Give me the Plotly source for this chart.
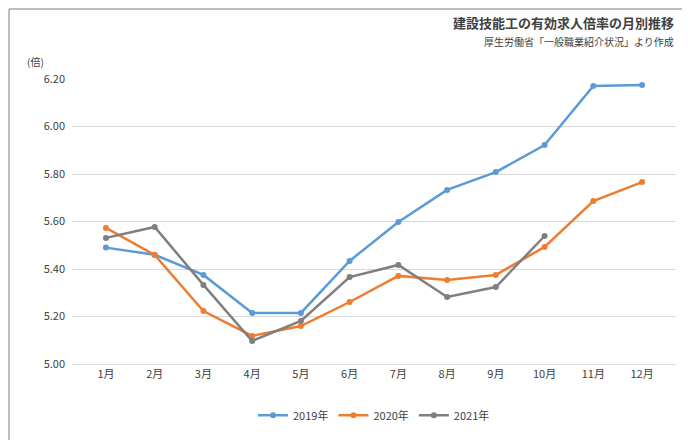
import plotly.graph_objects as go

months = ["1月","2月","3月","4月","5月","6月","7月","8月","9月","10月","11月","12月"]
s2019 = [5.49,5.46,5.375,5.215,5.215,5.434,5.598,5.733,5.808,5.922,6.171,6.175]
s2020 = [5.573,5.459,5.223,5.118,5.16,5.261,5.371,5.354,5.375,5.493,5.686,5.766]
s2021 = [5.531,5.577,5.333,5.097,5.181,5.366,5.417,5.282,5.324,5.539]
yticks = [5.0,5.2,5.4,5.6,5.8,6.0,6.2]

font = "Noto Sans CJK JP"
fig = go.Figure()
for name, ys, c in [("2019年", s2019, "#5B9BD5"), ("2020年", s2020, "#ED7D31"), ("2021年", s2021, "#7F7F7F")]:
    fig.add_trace(go.Scatter(x=months[:len(ys)], y=ys, name=name, mode="lines+markers",
                             line=dict(color=c, width=2.5), marker=dict(size=6, color=c)))

L, R, T, B, W, H = 64, 22, 71, 84, 690, 440
pw, ph = W - L - R, H - T - B
fig.update_layout(
    width=W, height=H, autosize=False, paper_bgcolor="white", plot_bgcolor="white",
    margin=dict(l=L, r=R, t=T, b=B, pad=0),
    font=dict(family=font, size=11, color="#404040"),
    xaxis=dict(showgrid=False, showline=True, linecolor="#D9D9D9", ticks="", automargin=False, tickfont=dict(size=11)),
    yaxis=dict(range=[5.0, 6.2], tickvals=yticks, ticktext=[f"{v:.2f}" for v in yticks], automargin=False,
               gridcolor="#D9D9D9", zeroline=False, tickfont=dict(size=11), ticklabelstandoff=6),
    legend=dict(orientation="h", x=0.5, xanchor="center", y=-0.18, yanchor="middle", font=dict(size=11)),
    showlegend=True,
    shapes=[dict(type="rect", xref="paper", yref="paper",
                 x0=(-L + 1) / pw, x1=1 + (R - 1) / pw, y0=(-B + 1) / ph, y1=1 + (T - 1) / ph,
                 line=dict(color="#7F7F7F", width=1))],
    annotations=[
        dict(text="<b>建設技能工の有効求人倍率の月別推移</b>", xref="paper", yref="paper", x=1.0, y=1.2,
             xanchor="right", yanchor="middle", showarrow=False, font=dict(size=13, color="#404040")),
        dict(text="厚生労働省「一般職業紹介状況」より作成", xref="paper", yref="paper", x=1.0, y=1.13,
             xanchor="right", yanchor="middle", showarrow=False, font=dict(size=10, color="#404040")),
        dict(text="(倍)", xref="paper", yref="paper", x=-0.06, y=1.06, xanchor="center", yanchor="middle",
             showarrow=False, font=dict(size=10, color="#404040")),
    ],
)
fig.write_html("out.html")
